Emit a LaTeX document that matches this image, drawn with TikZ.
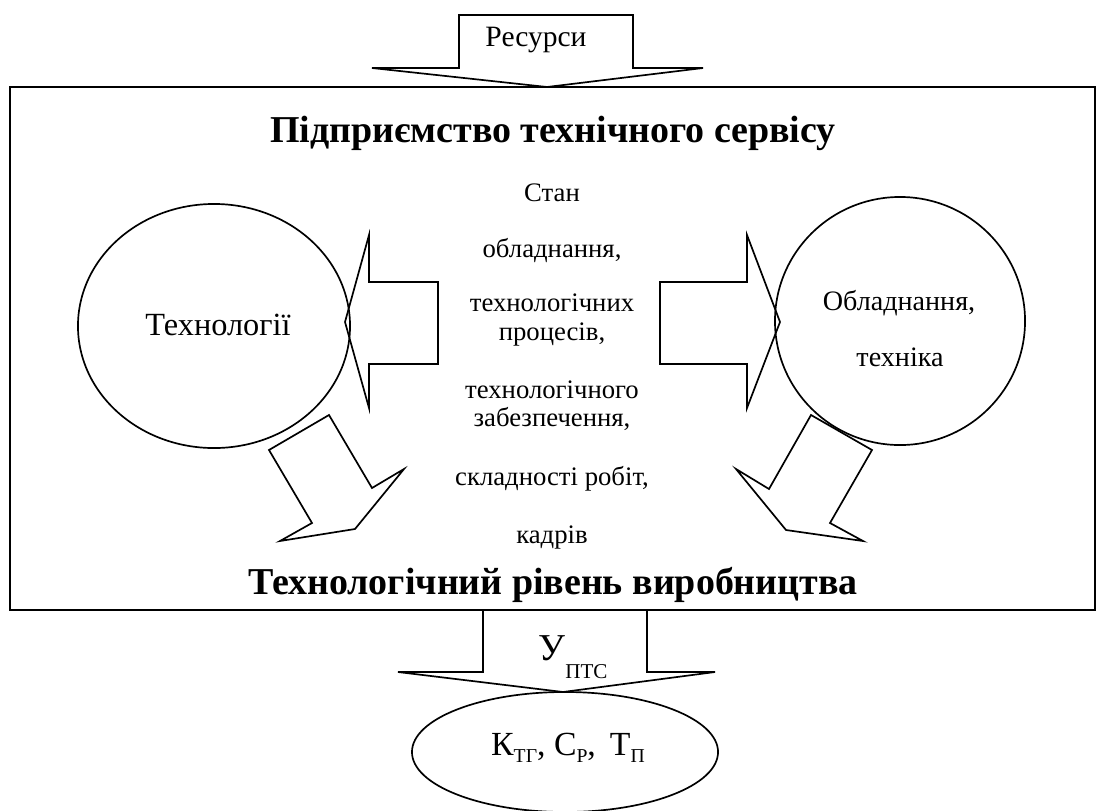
\documentclass[tikz,border=0pt]{standalone}
\usepackage{fontspec}
\setmainfont{Liberation Serif}
\usetikzlibrary{shapes.geometric}
\newcommand{\lowsub}[1]{\raisebox{-0.45ex}{\fontsize{14}{16}\selectfont #1}}
\tikzset{
	blk/.style={line width=1.2pt,line join=miter},
	oval/.style={draw,ellipse,line width=1.2pt,inner sep=0pt},
	mid/.style={font=\fontsize{19}{20}\selectfont,align=center},
	head/.style={font=\fontsize{27}{31}\selectfont\bfseries}
}

\begin{document}
\begin{tikzpicture}[x=0.025cm,y=-0.025cm]
	\useasboundingbox (0,0) rectangle (1108,810);
	\node[draw,line width=1.2pt,minimum width=27.125cm,minimum height=13.075cm,inner sep=0pt] (ptc) at (552.5,348.5) {};
	% resources in
	\draw[blk] (459,68)--(459,15)--(633,15)--(633,68)--(703,68)--(547,87)--(372,68)--cycle;
	\node[font=\fontsize{21}{24}\selectfont] (res) at (536,40) {Ресурси};
	\node[head] (top) at (553,133) {Підприємство технічного сервісу};
	\node[oval,minimum width=6.8cm,minimum height=6.1cm] (tech) at (214,326) {};
	\node[font=\fontsize{23}{26}\selectfont] (techt) at (218,325) {Технології};
	\node[oval,minimum width=6.25cm,minimum height=6.2cm] (obl) at (900,321) {};
	\node[font=\fontsize{20}{23}\selectfont] (oblt) at (899,303) {Обладнання,};
	\node[font=\fontsize{20}{23}\selectfont] (oblt2) at (900,357) {техніка};
	% side arrows
	\draw[blk] (438,282)--(369,282)--(369,235)--(345,322)--(369,408)--(369,364)--(438,364)--cycle;
	\draw[blk] (660,282)--(747,282)--(747,235)--(780,322)--(747,408)--(747,364)--(660,364)--cycle;
	\node[mid] (s1) at (552,193) {Стан};
	\node[mid] (s2) at (552,251) {обладнання,};
	\node[mid] (s3) at (552,320) {технологічних\\процесів,};
	\node[mid] (s4) at (552,406) {технологічного\\забезпечення,};
	\node[mid] (s5) at (552,479) {складності робіт,};
	\node[mid] (s6) at (552,537) {кадрів};
	% down arrows
	\draw[blk] (329,415)--(372,488)--(404,469)--(355,529)--(280,541)--(312,523)--(269,450)--cycle;
	\draw[blk] (811,415)--(872,450)--(830,523)--(863,541)--(786,530)--(736,469)--(769,489)--cycle;
	\node[head] (bot) at (553,585) {Технологічний рівень виробництва};
	% result
	\draw[blk] (483,610)--(483,672)--(398,672)--(563,692)--(715,672)--(647,672)--(647,610);
	\node[font=\fontsize{27}{30}\selectfont] (u) at (573,657) {У\raisebox{-1.05ex}{\fontsize{15}{17}\selectfont ПТС}};
	\node[oval,minimum width=7.65cm,minimum height=3cm] (kpi) at (565,752) {};
	\node[font=\fontsize{24}{27}\selectfont] (kpit) at (568,748) {К\lowsub{ТГ}, С\lowsub{Р}, \,Т\lowsub{П}};
\end{tikzpicture}
\end{document}
